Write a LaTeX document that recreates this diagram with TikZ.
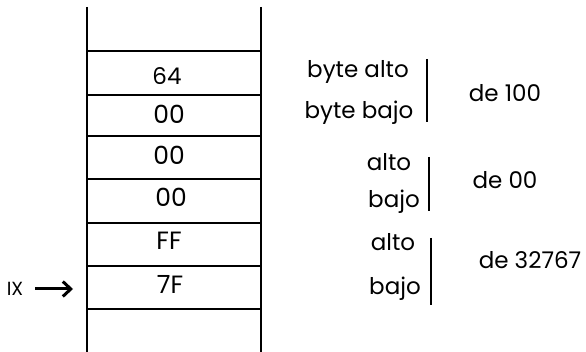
\documentclass[tikz,border=0pt]{standalone}
\usepackage{fontspec}
\setmainfont{Poppins}
\usetikzlibrary{arrows.meta}
\begin{document}
\begin{tikzpicture}[x=1pt,y=-1pt,
  rail/.style={line width=2.4pt},
  rung/.style={line width=2pt},
  bar/.style={line width=1.6pt},
  val/.style={font=\fontsize{25}{25}\selectfont, inner sep=0},
  small/.style={font=\fontsize{23}{23}\selectfont, inner sep=0},
  lbl/.style={font=\fontsize{23}{23}\selectfont, inner sep=0},
  ptrlbl/.style={font=\fontsize{19}{19}\selectfont, inner sep=0},
  ptr/.style={line width=3pt, -{Straight Barb[length=8pt,width=15pt]}},
]
\useasboundingbox (0,0) rectangle (586,352);
% ladder
\coordinate (lt) at (87,7);
\coordinate (lb) at (87,352);
\coordinate (rt) at (261,7);
\coordinate (rb) at (261,352);
\draw[rail] (lt) -- (lb);
\draw[rail] (rt) -- (rb);
\foreach \y [count=\i] in {51,95,136,179,223,266,309} {
  \coordinate (hl\i) at (87,\y);
  \coordinate (hr\i) at (261,\y);
  \draw[rung] (hl\i) -- (hr\i);
}
% cell values
\node[small] (c1) at (167,76) {64};
\node[val] (c2) at (169,114) {00};
\node[val] (c3) at (169,155) {00};
\node[val] (c4) at (171,197) {00};
\node[val] (c5) at (169,241) {FF};
\node[val] (c6) at (170,284) {7F};
% pointer
\node[ptrlbl] (ix) at (15,289) {IX};
\coordinate (ixtip) at (73,289);
\draw[ptr] (ix.east) ++(12,0) -- (ixtip);
% labels
\node[lbl] (a1) at (358,72) {byte alto};
\node[lbl] (b1) at (359,113) {byte bajo};
\coordinate (t1) at (427,59);
\coordinate (u1) at (427,122);
\draw[bar] (t1) -- (u1);
\node[lbl] (d1) at (505,93) {de 100};
\node[lbl] (a2) at (389,162) {alto};
\node[lbl] (b2) at (394,202) {bajo};
\coordinate (t2) at (429,157);
\coordinate (u2) at (429,211);
\draw[bar] (t2) -- (u2);
\node[lbl] (d2) at (505,180) {de 00};
\node[lbl] (a3) at (393,242) {alto};
\node[lbl] (b3) at (395,289) {bajo};
\coordinate (t3) at (431,238);
\coordinate (u3) at (431,305);
\draw[bar] (t3) -- (u3);
\node[lbl] (d3) at (530,260) {de 32767};
\end{tikzpicture}
\end{document}
